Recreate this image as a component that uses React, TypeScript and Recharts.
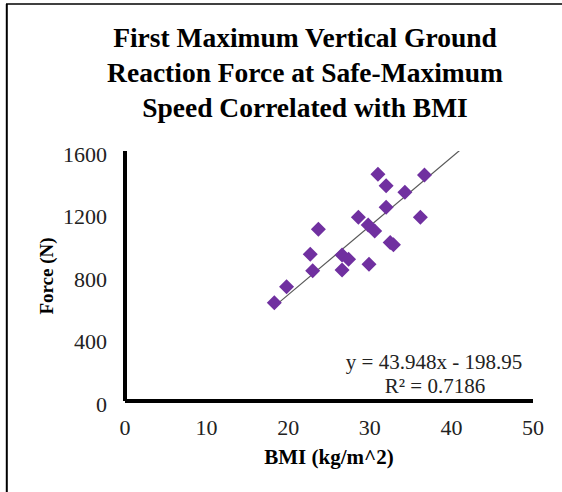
import { ScatterChart, Scatter, XAxis, YAxis } from 'recharts';

// BMI (kg/m^2) and first max vertical GRF (N)
const bmi = [18.3, 19.8, 22.7, 23.0, 23.7, 26.6, 26.6, 27.4, 28.6, 29.9, 29.8, 30.6, 31.0, 32.0, 32.0, 32.5, 32.9, 34.3, 36.7, 36.2];
const force = [629, 731, 939, 834, 1099, 838, 934, 907, 1176, 875, 1126, 1088, 1451, 1240, 1378, 1015, 1000, 1336, 1446, 1176];

// trendline y = 43.948x - 198.95, drawn between these BMI values
const trendX = [18.2, 41.2];
const slope = 43.948;
const intercept = -198.95;

const xTicks = [0, 10, 20, 30, 40, 50];
const yTicks = [0, 400, 800, 1200, 1600];

const titleLines = [
  'First Maximum Vertical Ground',
  'Reaction Force at Safe-Maximum',
  'Speed Correlated with BMI',
];

const points = bmi.map((x, i) => ({ x, y: force[i] }));
const trend = trendX.map((x) => ({ x, y: slope * x + intercept }));

const FONT = '"Liberation Serif", "Times New Roman", serif';
const PURPLE = '#7030A0';

const Diamond = (props: any) => {
  const { cx, cy } = props;
  const r = 7.5;
  return (
    <polygon
      points={`${cx},${cy - r} ${cx + r},${cy} ${cx},${cy + r} ${cx - r},${cy}`}
      fill={PURPLE}
    />
  );
};

export default function App() {
  return (
    <div style={{ position: 'absolute', left: 0, top: 0, width: 562, height: 492, background: '#fff' }}>
      <ScatterChart
        width={562}
        height={492}
        margin={{ top: 151, right: 29, bottom: 0, left: 0 }}
      >
        <XAxis
          type="number"
          dataKey="x"
          domain={[0, 50]}
          ticks={xTicks}
          height={91}
          tickLine={false}
          tickMargin={12}
          axisLine={{ stroke: '#000', strokeWidth: 4 }}
          tick={{ fill: '#222', fontSize: 22, fontFamily: FONT }}
        />
        <YAxis
          type="number"
          dataKey="y"
          domain={[0, 1600]}
          ticks={yTicks}
          allowDataOverflow
          width={125}
          tickLine={false}
          tickMargin={12}
          axisLine={{ stroke: '#000', strokeWidth: 4 }}
          tick={{ fill: '#222', fontSize: 22, fontFamily: FONT, dy: 3 }}
        />
        <Scatter
          data={trend}
          line={{ stroke: '#595959', strokeWidth: 1.2 }}
          shape={() => null}
          isAnimationActive={false}
        />
        <Scatter data={points} shape={Diamond} isAnimationActive={false} />
      </ScatterChart>
      <svg
        width={562}
        height={492}
        style={{ position: 'absolute', left: 0, top: 0, pointerEvents: 'none' }}
      >
        <line x1={6.8} y1={4} x2={6.8} y2={492} stroke="#000" strokeWidth={2} />
        <line x1={6} y1={4} x2={562} y2={4} stroke="#000" strokeWidth={1.5} />
        {titleLines.map((t, i) => (
          <text
            key={t}
            x={305}
            y={47 + i * 35}
            textAnchor="middle"
            fontFamily={FONT}
            fontWeight="bold"
            fontSize={27.5}
            fill="#000"
          >
            {t}
          </text>
        ))}
        <text x={329} y={464} textAnchor="middle" fontFamily={FONT} fontWeight="bold" fontSize={21} fill="#000">
          BMI (kg/m^2)
        </text>
        <text
          x={53}
          y={276}
          transform="rotate(-90, 53, 276)"
          textAnchor="middle"
          fontFamily={FONT}
          fontWeight="bold"
          fontSize={19}
          fill="#000"
        >
          Force (N)
        </text>
        <text x={434} y={369} textAnchor="middle" fontFamily={FONT} fontSize={21} fill="#222">
          y = 43.948x - 198.95
        </text>
        <text x={435} y={393} textAnchor="middle" fontFamily={FONT} fontSize={21} fill="#222">
          R² = 0.7186
        </text>
      </svg>
    </div>
  );
}
